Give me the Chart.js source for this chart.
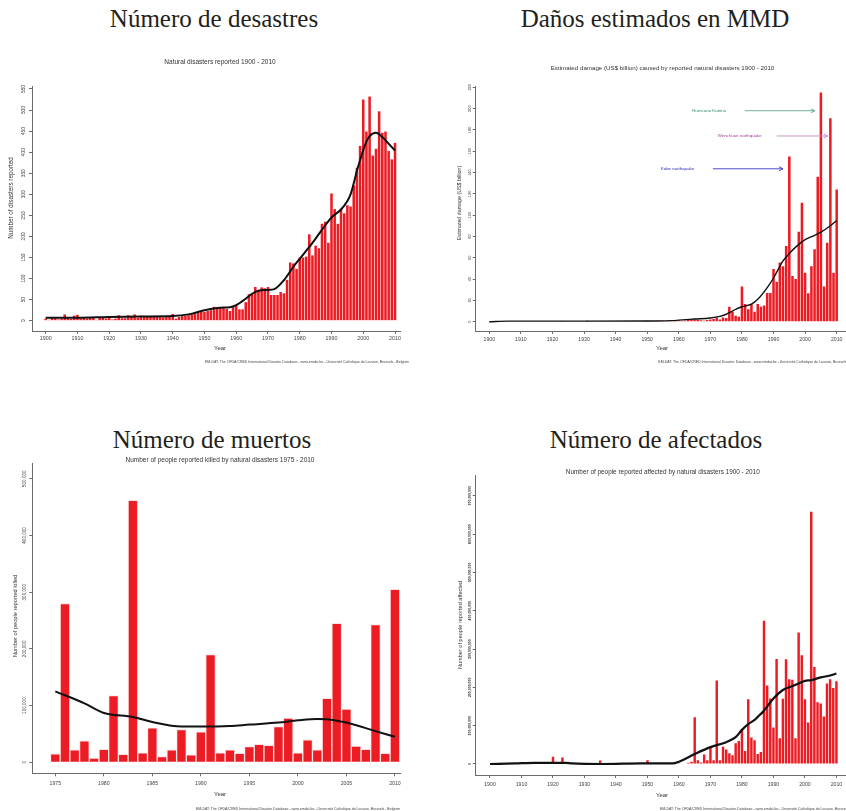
<!DOCTYPE html>
<html>
<head>
<meta charset="utf-8">
<script src="https://cdn.jsdelivr.net/npm/chart.js@4.4.1/dist/chart.umd.min.js"></script>
<style>
  html, body { margin: 0; padding: 0; background: #fff; }
  body { width: 846px; height: 811px; position: relative; overflow: hidden; }
  .h { position: absolute; text-align: center; font-family: 'Liberation Serif', 'Times New Roman', serif;
       font-size: 25px; line-height: 25px; color: #231f20; white-space: nowrap; }
  canvas { position: absolute; }
</style>
</head>
<body>
<div class="h" style="left:0;width:428px;top:6px">Número de desastres</div>
<div class="h" style="left:430px;width:450px;top:6px">Daños estimados en MMD</div>
<div class="h" style="left:0;width:424px;top:427px">Número de muertos</div>
<div class="h" style="left:430px;width:452px;top:427px">Número de afectados</div>

<canvas id="c1"></canvas>
<canvas id="c2"></canvas>
<canvas id="c3"></canvas>
<canvas id="c4"></canvas>

<script>
// ---------- data ----------
function yearRange(a, b) { const r = []; for (let y = a; y <= b; y++) r.push(y); return r; }

// Natural disasters reported per year, 1900-2010
const disasterYears = yearRange(1900, 2010);
const disasterCounts = [
  5, 2, 6, 6, 3, 5, 15, 6, 4, 12,
  14, 5, 6, 5, 7, 7, 2, 7, 9, 5,
  8, 3, 5, 13, 6, 6, 13, 9, 15, 7,
  12, 9, 10, 10, 9, 10, 10, 8, 9, 10,
  16, 5, 9, 11, 12, 13, 14, 16, 20, 21,
  21, 23, 25, 33, 30, 30, 32, 28, 23, 33,
  37, 27, 27, 44, 63, 64, 80, 73, 79, 77,
  80, 61, 61, 61, 68, 65, 97, 138, 136, 123,
  150, 150, 152, 205, 155, 178, 172, 230, 235, 185,
  302, 265, 230, 266, 255, 274, 271, 321, 363, 415,
  525, 449, 532, 392, 408, 497, 446, 449, 403, 383, 422
];
const disasterTrendYears = [1900, 1910, 1920, 1930, 1940, 1945, 1950, 1955, 1958, 1960, 1963, 1965, 1967, 1970, 1972,
  1975, 1978, 1980, 1983, 1985, 1988, 1990, 1993, 1995, 1996, 1997, 1998, 1999, 2000, 2001, 2002, 2004, 2006, 2008, 2010];
const disasterTrend = [7, 7, 9, 10, 11, 15, 25, 31, 32, 37, 52, 64, 71, 73, 75,
  96, 128, 147, 175, 195, 226, 245, 264, 284, 300, 326, 356, 381, 405, 425, 438, 446, 436, 420, 404];
const disasterYTicks = [0, 50, 100, 150, 200, 250, 300, 350, 400, 450, 500, 550];

// Estimated damage (US$ billion), 1900-2010
const damageYears = yearRange(1900, 2010);
const damageBillions = [
  0, 0, 0, 0, 0, 0, 0.5, 0, 0, 0,
  0, 0, 0, 0, 0, 0, 0, 0, 0, 0,
  0, 0, 0, 0.6, 0, 0, 0, 0, 0, 0,
  0, 1.0, 0, 0, 0, 0, 0, 0, 0, 0,
  0, 0, 0, 0, 0, 0, 0, 0.5, 0.4, 0.3,
  0.8, 0.6, 0.5, 0.9, 1.0, 0.8, 0.7, 0.6, 0.5, 0.9,
  1.2, 0.8, 1.1, 1.5, 1.9, 2.0, 1.8, 1.4, 0.9, 1.6,
  2, 2.5, 4, 2, 4, 3.5, 14, 9.4, 5.6, 4.7,
  33, 16.6, 11.6, 16.6, 9.4, 16.6, 14, 15.3, 27, 27,
  49.5, 37.6, 55.6, 52, 71, 155, 43, 40, 84.5, 111.7,
  46, 26.6, 52, 68, 136, 215, 33, 74, 191, 46, 124
];
const damageTrendYears = [1900, 1906, 1930, 1950, 1958, 1960, 1965, 1970, 1973, 1975, 1978, 1980, 1983, 1985,
  1988, 1990, 1993, 1995, 1997, 2000, 2003, 2005, 2008, 2010];
const damageTrend = [0, 0.5, 0.5, 0.7, 1, 1.5, 2.5, 3.5, 5, 7, 11.5, 14, 16.5, 21,
  32, 41, 57, 64, 70, 77, 81, 84, 90, 95];
const damageYTicks = [0, 20, 40, 60, 80, 100, 120, 140, 160, 180, 200, 220];
const damageEvents = ['Hurricane Katrina', 'Wenchuan earthquake', 'Kobe earthquake'];

// People reported killed, 1975-2010
const killedYears = yearRange(1975, 2010);
const killedCounts = [
  15000, 280000, 21800, 38000, 7600, 23000, 117600, 14000, 462000, 16500,
  60600, 10000, 21800, 57600, 13000, 53500, 190000, 16500, 21800, 16000,
  27600, 31800, 30000, 63000, 78000, 16500, 39400, 21800, 113000, 245000,
  94000, 28800, 23000, 243000, 16000, 305000
];
const killedTrendYears = [1975, 1978, 1980, 1983, 1985, 1988, 1990, 1993, 1995, 1998, 2000, 2002, 2003, 2005, 2008, 2010];
const killedTrend = [125000, 104000, 87000, 80000, 71000, 63000, 63000, 64000, 66500, 70000, 74000, 76500, 76000, 70000, 55000, 45000];
const killedYTicks = [0, 100000, 200000, 300000, 400000, 500000];

// People reported affected (millions), 1900-2010
const affectedYears = yearRange(1900, 2010);
const affectedMillions = [
  0, 0, 0, 0, 0, 0, 0, 0, 0, 0,
  0, 0, 0, 0, 0, 0, 0, 0, 0, 0,
  19, 0, 0, 17, 0, 0, 0, 0, 0, 0,
  0, 0, 0, 0, 0, 9, 0, 0, 0, 0,
  0, 0, 0, 0, 0, 0, 0, 0, 0, 0,
  10, 0, 0, 0, 0, 0, 0, 0, 0, 1,
  2, 1, 0, 3.5, 6, 122, 10, 4, 25, 10,
  43, 10, 218, 10, 45, 38, 28, 23, 54, 60,
  90, 34, 169, 69, 62, 26, 31, 374, 205, 171,
  95, 274, 67, 170, 273, 221, 220, 67, 343, 284,
  169, 108, 658, 253, 161, 158, 124, 210, 221, 198, 216
];
const affectedTrendYears = [1900, 1908, 1914, 1924, 1926, 1936, 1948, 1958, 1960, 1965, 1970, 1975, 1978, 1980,
  1982, 1984, 1985, 1987, 1988, 1990, 1993, 1995, 1998, 2000, 2002, 2005, 2008, 2010];
const affectedTrend = [0, 1.5, 3, 3, 1.5, 0, 1.5, 1.5, 6, 26, 44, 57, 70, 89,
  104, 115, 123, 139, 150, 171, 193, 200, 210, 217, 219, 226, 231, 236];
const affectedYTicks = [0, 100, 200, 300, 400, 500, 600, 700];

const SOURCE = 'EM-DAT: The OFDA/CRED International Disaster Database - www.emdat.be - Universit\u00e9 Catholique de Louvain, Brussels - Belgium';

// ---------- styling ----------
const SANS = "'Liberation Sans', Arial, sans-serif";
const BAR_RED = '#ec1c24';
const AXIS = '#6b6b6b';
const TXT = '#333333';
const Y_AXIS_W = 20;
const X_AXIS_H = 22;

function pairs(xs, ys) { return xs.map((x, i) => ({ x, y: ys[i] })); }
const fmtThousands = v => Math.round(v).toLocaleString('en-US');

// Draws free text (page coordinates), vertical y tick labels and event arrows
function notesPlugin(cfg) {
  return {
    id: 'notes' + cfg.id,
    afterDraw(chart) {
      const ctx = chart.ctx;
      const ox = cfg.box.x, oy = cfg.box.y;
      ctx.save();
      // y tick labels, rotated like base-R axes
      const ys = chart.scales.y;
      ctx.fillStyle = cfg.yLab.color || '#444';
      ctx.font = (cfg.yLab.weight || 'normal') + ' ' + cfg.yLab.size + 'px ' + SANS;
      ctx.textAlign = 'center';
      ctx.textBaseline = 'middle';
      ys.ticks.forEach(t => {
        ctx.save();
        ctx.translate(cfg.yLab.x - ox, ys.getPixelForValue(t.value));
        ctx.rotate(-Math.PI / 2);
        ctx.fillText(cfg.yLab.format(t.value), 0, 0);
        ctx.restore();
      });
      // titles, axis names, source line
      cfg.texts.forEach(n => {
        ctx.save();
        ctx.fillStyle = n.color || TXT;
        ctx.font = n.size + 'px ' + SANS;
        ctx.textAlign = n.align || 'center';
        ctx.textBaseline = 'middle';
        ctx.translate(n.x - ox, n.y - oy);
        if (n.rot) ctx.rotate(-Math.PI / 2);
        ctx.fillText(n.t, 0, 0);
        ctx.restore();
      });
      // event arrows, positioned in data space
      if (cfg.events) {
        const xs = chart.scales.x;
        cfg.events.forEach(ev => {
          const y = ys.getPixelForValue(ev.level);
          ctx.fillStyle = ev.textColor;
          ctx.font = '4.4px ' + SANS;
          ctx.textAlign = 'left';
          ctx.textBaseline = 'middle';
          ctx.fillText(ev.label, xs.getPixelForValue(ev.textAt), y);
          const x0 = xs.getPixelForValue(ev.from), x1 = xs.getPixelForValue(ev.to);
          ctx.strokeStyle = ev.arrowColor;
          ctx.lineWidth = 0.9;
          ctx.beginPath();
          ctx.moveTo(x0, y); ctx.lineTo(x1, y);
          ctx.moveTo(x1 - 4, y - 2); ctx.lineTo(x1, y); ctx.lineTo(x1 - 4, y + 2);
          ctx.stroke();
        });
      }
      ctx.restore();
    }
  };
}

function makeChart(cfg) {
  const el = document.getElementById(cfg.id);
  el.width = cfg.box.w; el.height = cfg.box.h;
  el.style.left = cfg.box.x + 'px'; el.style.top = cfg.box.y + 'px';
  const padding = {
    left: cfg.plot.l - cfg.box.x - Y_AXIS_W,
    top: cfg.plot.t - cfg.box.y,
    right: cfg.box.x + cfg.box.w - cfg.plot.r,
    bottom: cfg.box.y + cfg.box.h - cfg.plot.b - X_AXIS_H
  };
  return new Chart(el, {
    type: 'bar',
    data: {
      datasets: [
        { type: 'line', data: cfg.trend, borderColor: '#111', borderWidth: cfg.lineWidth,
          pointRadius: 0, cubicInterpolationMode: 'monotone', order: 0 },
        { type: 'bar', data: cfg.bars, backgroundColor: BAR_RED,
          borderColor: cfg.barBorder || 'rgba(0,0,0,0)', borderWidth: cfg.barBorder ? 1 : 0,
          barPercentage: cfg.barPct, categoryPercentage: 1, order: 1 }
      ]
    },
    options: {
      responsive: false, animation: false, devicePixelRatio: 1,
      layout: { padding },
      events: [],
      plugins: { legend: { display: false }, tooltip: { enabled: false }, title: { display: false } },
      scales: {
        x: {
          type: 'linear', min: cfg.xRange[0], max: cfg.xRange[1], offset: false,
          afterBuildTicks: s => { s.ticks = cfg.xTicks.map(v => ({ value: v })); },
          afterFit: s => { s.height = X_AXIS_H; },
          grid: { display: true, drawOnChartArea: false, drawTicks: true, tickLength: 3, color: AXIS, offset: false },
          border: { display: true, color: AXIS, width: 1 },
          ticks: { autoSkip: false, maxRotation: 0, minRotation: 0, padding: cfg.xTickPad, color: '#444',
                   font: { family: SANS, size: cfg.xTickSize }, callback: v => String(v) }
        },
        y: {
          type: 'linear', min: cfg.yRange[0], max: cfg.yRange[1],
          afterBuildTicks: s => { s.ticks = cfg.yTicks.map(v => ({ value: v })); },
          afterFit: s => { s.width = Y_AXIS_W; },
          grid: { display: true, drawOnChartArea: false, drawTicks: true, tickLength: 3, color: AXIS },
          border: { display: true, color: AXIS, width: 1 },
          ticks: { display: false }
        }
      }
    },
    plugins: [notesPlugin(cfg)]
  });
}

// ---------- panels ----------
makeChart({
  id: 'c1', box: { x: 0, y: 45, w: 430, h: 325 }, plot: { l: 32, t: 86, r: 400, b: 331 },
  xRange: [1895.69, 2011.57], yRange: [-24.45, 557.1],
  xTicks: [1900, 1910, 1920, 1930, 1940, 1950, 1960, 1970, 1980, 1990, 2000, 2010], yTicks: disasterYTicks,
  xTickSize: 5.3, xTickPad: 1.8, barPct: 0.8, lineWidth: 2,
  bars: pairs(disasterYears, disasterCounts), trend: pairs(disasterTrendYears, disasterTrend),
  yLab: { x: 24, size: 4.8, format: v => String(v) },
  texts: [
    { t: 'Natural disasters reported 1900 - 2010', x: 220, y: 62, size: 6.5 },
    { t: 'Number of disasters reported', x: 11, y: 198, size: 6.3, rot: true },
    { t: 'Year', x: 220, y: 348.3, size: 6 },
    { t: SOURCE, x: 409, y: 361.7, size: 3.5, align: 'right', color: '#444' }
  ]
});

makeChart({
  id: 'c2', box: { x: 430, y: 45, w: 416, h: 325 }, plot: { l: 475.7, t: 86, r: 846, b: 331 },
  xRange: [1895.69, 2012.95], yRange: [-8.73, 221.2],
  xTicks: [1900, 1910, 1920, 1930, 1940, 1950, 1960, 1970, 1980, 1990, 2000, 2010], yTicks: damageYTicks,
  xTickSize: 5.2, xTickPad: 2.8, barPct: 0.8, lineWidth: 1.4,
  bars: pairs(damageYears, damageBillions), trend: pairs(damageTrendYears, damageTrend),
  yLab: { x: 469.5, size: 4, format: v => String(v) },
  texts: [
    { t: 'Estimated damage (US$ billion) caused by reported natural disasters 1900 - 2010', x: 662.5, y: 68.3, size: 6.2 },
    { t: 'Estimated damage (US$ billion)', x: 460, y: 203, size: 5.3, rot: true },
    { t: 'Year', x: 662, y: 348.3, size: 6 },
    { t: SOURCE, x: 658.3, y: 361.7, size: 3.5, align: 'left', color: '#444' }
  ],
  events: [
    { label: damageEvents[0], textAt: 1964.2, from: 1980.9, to: 2003.1, level: 198, textColor: '#3b8a6a', arrowColor: '#5ea88c' },
    { label: damageEvents[1], textAt: 1972.3, from: 1991.0, to: 2007.2, level: 174.3, textColor: '#a03ca0', arrowColor: '#c48ac4' },
    { label: damageEvents[2], textAt: 1954.3, from: 1970.8, to: 1993.0, level: 143.5, textColor: '#2a2ab0', arrowColor: '#3a3ac0' }
  ]
});

makeChart({
  id: 'c3', box: { x: 0, y: 452, w: 430, h: 359 }, plot: { l: 32.3, t: 463.3, r: 400, b: 773.3 },
  xRange: [1972.63, 2010.52], yRange: [-19394, 527150],
  xTicks: [1975, 1980, 1985, 1990, 1995, 2000, 2005, 2010], yTicks: killedYTicks,
  xTickSize: 5.2, xTickPad: 3.8, barPct: 1, barBorder: 'rgba(255,225,225,0.95)', lineWidth: 2,
  bars: pairs(killedYears, killedCounts), trend: pairs(killedTrendYears, killedTrend),
  yLab: { x: 25, size: 4.6, format: fmtThousands },
  texts: [
    { t: 'Number of people reported killed by natural disasters 1975 - 2010', x: 220, y: 460, size: 6.5 },
    { t: 'Number of people reported killed', x: 15.7, y: 616, size: 5.7, rot: true },
    { t: 'Year', x: 220, y: 794.3, size: 6 },
    { t: SOURCE, x: 400, y: 809, size: 3.5, align: 'right', color: '#444' }
  ]
});

makeChart({
  id: 'c4', box: { x: 430, y: 452, w: 416, h: 359 }, plot: { l: 475.7, t: 475, r: 846, b: 775 },
  xRange: [1895.46, 2012.95], yRange: [-28.7, 754],
  xTicks: [1900, 1910, 1920, 1930, 1940, 1950, 1960, 1970, 1980, 1990, 2000, 2010], yTicks: affectedYTicks,
  xTickSize: 5.2, xTickPad: 3.8, barPct: 0.78, lineWidth: 2.2,
  bars: pairs(affectedYears, affectedMillions), trend: pairs(affectedTrendYears, affectedTrend),
  yLab: { x: 470, size: 3.5, weight: 'bold', color: '#222', format: v => fmtThousands(v * 1e6) },
  texts: [
    { t: 'Number of people reported affected by natural disasters 1900 - 2010', x: 662.8, y: 472.3, size: 6.4 },
    { t: 'Number of people reported affected', x: 460, y: 625, size: 5.6, rot: true },
    { t: 'Year', x: 662, y: 795.3, size: 6 },
    { t: SOURCE, x: 660, y: 809, size: 3.5, align: 'left', color: '#444' }
  ]
});
</script>
</body>
</html>
